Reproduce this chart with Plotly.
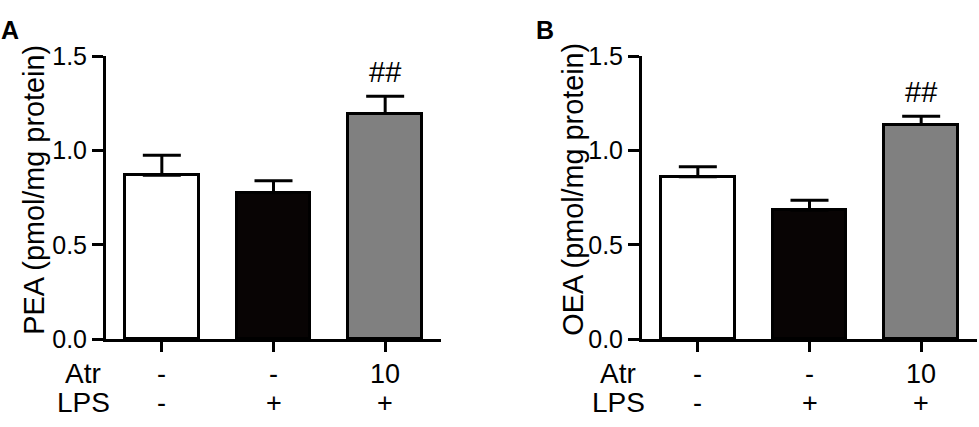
import plotly.graph_objects as go

# group settings (bottom table) and bar values
atr = ["-", "-", "10"]
lps = ["-", "+", "+"]
groups = [0, 1, 2]
bar_colors = ["#ffffff", "#080404", "#808080"]

pea_mean = [0.868, 0.776, 1.195]
pea_sem = [0.107, 0.064, 0.092]
oea_mean = [0.860, 0.683, 1.137]
oea_sem = [0.054, 0.053, 0.044]

y_ticks = [0.0, 0.5, 1.0, 1.5]
y_ticktext = ["0.0", "0.5", "1.0", "1.5"]

FONT = "Liberation Sans, Arial, sans-serif"
W, H = 979, 427

panels = [
    dict(mean=pea_mean, sem=pea_sem, title="PEA (pmol/mg protein)", letter="A",
         dom=[106, 441], title_x=34, letter_x=10, row_x=83),
    dict(mean=oea_mean, sem=oea_sem, title="OEA (pmol/mg protein)", letter="B",
         dom=[642, 977], title_x=573, letter_x=545, row_x=618),
]

fig = go.Figure()
annotations = []

for i, p in enumerate(panels):
    xa = "x" if i == 0 else "x2"
    ya = "y" if i == 0 else "y2"
    fig.add_trace(
        go.Bar(
            x=groups,
            y=p["mean"],
            width=0.66,
            marker=dict(color=bar_colors, line=dict(color="black", width=3)),
            error_y=dict(
                type="data",
                array=p["sem"],
                arrayminus=[0] * len(p["sem"]),
                symmetric=False,
                color="black",
                thickness=3,
                width=19,
            ),
            xaxis=xa,
            yaxis=ya,
            showlegend=False,
            hoverinfo="skip",
        )
    )

    # ## above the treated group
    annotations.append(dict(
        x=groups[2], y=p["mean"][2] + p["sem"][2], xref=xa, yref=ya,
        text="##", showarrow=False, yanchor="bottom", yshift=6,
        font=dict(size=29, color="black", family=FONT),
    ))

    # y-axis title
    annotations.append(dict(
        x=p["title_x"] / W, y=1 - 188 / H, xref="paper", yref="paper",
        text=p["title"], textangle=-90, showarrow=False,
        xanchor="center", yanchor="middle",
        font=dict(size=28.8, color="black", family=FONT),
    ))

    # panel letter
    annotations.append(dict(
        x=p["letter_x"] / W, y=1 - 17 / H, xref="paper", yref="paper",
        text="<b>%s</b>" % p["letter"], showarrow=False,
        xanchor="center", yanchor="middle",
        font=dict(size=25, color="black", family=FONT),
    ))

    # treatment table under the axis
    for g, a, l in zip(groups, atr, lps):
        annotations.append(dict(
            x=g, y=1 - 385 / H, xref=xa, yref="paper", text=a, showarrow=False,
            xanchor="center", yanchor="middle",
            font=dict(size=27, color="black", family=FONT),
        ))
        annotations.append(dict(
            x=g, y=1 - 416 / H, xref=xa, yref="paper", text=l, showarrow=False,
            xanchor="center", yanchor="middle",
            font=dict(size=27, color="black", family=FONT),
        ))

    for name, yy in [("Atr", 385), ("LPS", 416)]:
        annotations.append(dict(
            x=p["row_x"] / W, y=1 - yy / H, xref="paper", yref="paper", text=name,
            showarrow=False, xanchor="center", yanchor="middle",
            font=dict(size=28, color="black", family=FONT),
        ))

axis_x = dict(
    range=[-0.5, 2.5],
    showgrid=False,
    zeroline=False,
    showline=True,
    linecolor="black",
    linewidth=3,
    ticks="outside",
    ticklen=10,
    tickwidth=3,
    tickcolor="black",
    tickvals=groups,
    showticklabels=False,
    fixedrange=True,
)
axis_y = dict(
    range=[0, 1.5],
    domain=[1 - 348 / H, 1 - 45 / H],
    showgrid=False,
    zeroline=False,
    showline=True,
    linecolor="black",
    linewidth=3,
    ticks="outside",
    ticklen=11,
    tickwidth=3,
    tickcolor="black",
    tickvals=y_ticks,
    ticktext=y_ticktext,
    tickfont=dict(size=25, color="black", family=FONT),
    fixedrange=True,
)

fig.update_layout(
    width=W,
    height=H,
    margin=dict(l=0, r=0, t=0, b=0),
    paper_bgcolor="white",
    plot_bgcolor="white",
    font=dict(family=FONT, color="black"),
    bargap=0,
    xaxis=dict(axis_x, domain=[panels[0]["dom"][0] / W, panels[0]["dom"][1] / W], anchor="y"),
    yaxis=dict(axis_y, anchor="x"),
    xaxis2=dict(axis_x, domain=[panels[1]["dom"][0] / W, panels[1]["dom"][1] / W], anchor="y2"),
    yaxis2=dict(axis_y, anchor="x2"),
    annotations=annotations,
)

# page has a default 8px body margin; drop it so the figure sits at the top-left corner
fig.write_html(
    "out.html",
    config={"displayModeBar": False},
    post_script="document.body.style.margin = '0';",
)
